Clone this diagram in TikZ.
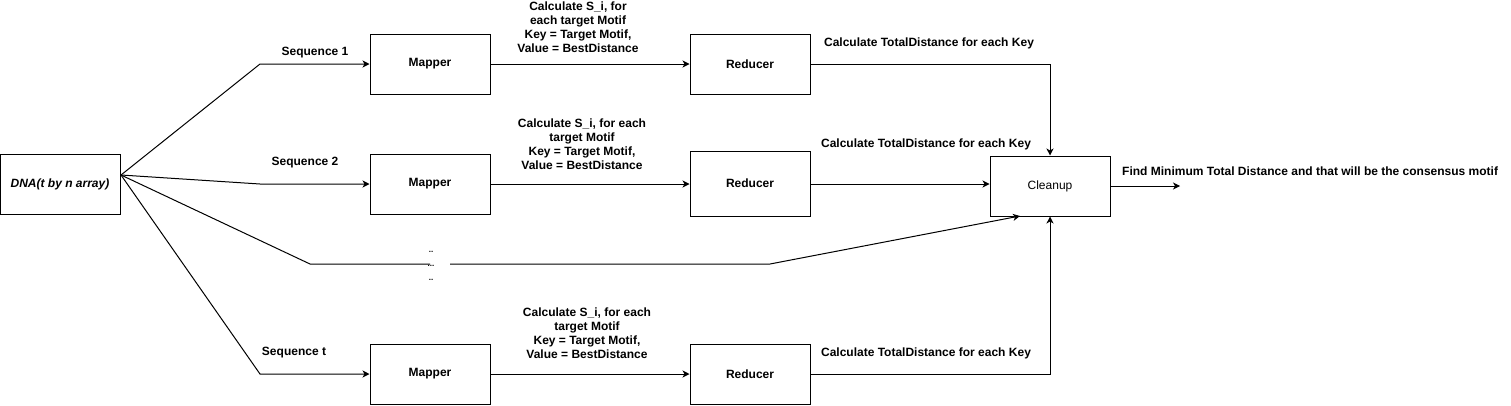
\documentclass[tikz,border=0pt]{standalone}
\usepackage{fontspec}
\setmainfont{Liberation Sans}
\usetikzlibrary{arrows.meta}
\begin{document}
\begin{tikzpicture}[x=1pt,y=-1pt,
  box/.style={draw,line width=1pt,minimum width=120pt,minimum height=60pt,inner sep=0pt,font=\fontsize{12}{14}\selectfont\bfseries},
  lbl/.style={font=\fontsize{12}{14}\selectfont\bfseries,inner sep=0pt,align=center},
  dots/.style={font=\fontsize{8}{9}\selectfont\bfseries,inner sep=0pt},
  conn/.style={line width=1pt},
  arr/.style={line width=1pt,-{Stealth[length=7pt,width=7pt,inset=2pt]}}]
\useasboundingbox (0,0) rectangle (1511,405);
% nodes
\node[box,font=\fontsize{12}{14}\selectfont\bfseries\itshape] (dna) at (60,184) {DNA(t by n array)};
\node[box] (m1) at (430,64) {Mapper};
\node[box] (m2) at (430,184) {Mapper};
\node[box] (m3) at (430,374) {Mapper};
\node[box] (r1) at (750,64) {Reducer};
\node[box,minimum height=65pt] (r2) at (750,183.5) {Reducer};
\node[box] (r3) at (750,374) {Reducer};
\node[box,font=\fontsize{12}{14}\selectfont] (cl) at (1050,186) {Cleanup};
% bend coordinates
\coordinate (o) at (121,175);
\coordinate (b1) at (260,64);
\coordinate (b2) at (260,184);
\coordinate (b3) at (260,374);
\coordinate (bm1) at (310,264);
\coordinate (bm2) at (430,264);
\coordinate (bm3) at (450,264);
\coordinate (bm4) at (770,264);
\coordinate (out) at (1180,186);
% connectors
\draw[arr] (o) -- (b1) -- (m1.west);
\draw[arr] (o) -- (b2) -- (m2.west);
\draw[arr] (o) -- (b3) -- (m3.west);
\draw[conn] (o) -- (bm1) -- (bm2);
\draw[arr] (bm3) -- (bm4) -- (1020,216);
\draw[arr] (m1) -- (r1);
\draw[arr] (m2) -- (r2.west |- m2);
\draw[arr] (m3) -- (r3);
\draw[arr] (r1.east) -| (cl.north);
\draw[arr] (r2.east |- m2) -- (cl.west |- m2);
\draw[arr] (r3.east) -| (cl.south);
\draw[arr] (cl.east) -- (out);
% labels
\node[lbl] (s1) at (315,53) {Sequence 1};
\node[lbl] (s2) at (305,163) {Sequence 2};
\node[lbl] (st) at (294,353) {Sequence t};
\node[lbl] (c1) at (578,27) {Calculate S\_i, for\\each target Motif\\Key = Target Motif,\\Value = BestDistance};
\node[lbl] (c2) at (582,144) {Calculate S\_i, for each\\target Motif\\Key = Target Motif,\\Value = BestDistance};
\node[lbl] (c3) at (587,333) {Calculate S\_i, for each\\target Motif\\Key = Target Motif,\\Value = BestDistance};
\node[lbl] (t1) at (929,43) {Calculate TotalDistance for each Key};
\node[lbl] (t2) at (926,144) {Calculate TotalDistance for each Key};
\node[lbl] (t3) at (926,353) {Calculate TotalDistance for each Key};
\node[lbl,anchor=west] (fm) at (1122,171) {Find Minimum Total Distance and that will be the consensus motif};
\node[dots] (d1) at (431,252) {..};
\node[dots] (d2) at (431,266) {...};
\node[dots] (d3) at (431,280) {..};
\end{tikzpicture}
\end{document}
